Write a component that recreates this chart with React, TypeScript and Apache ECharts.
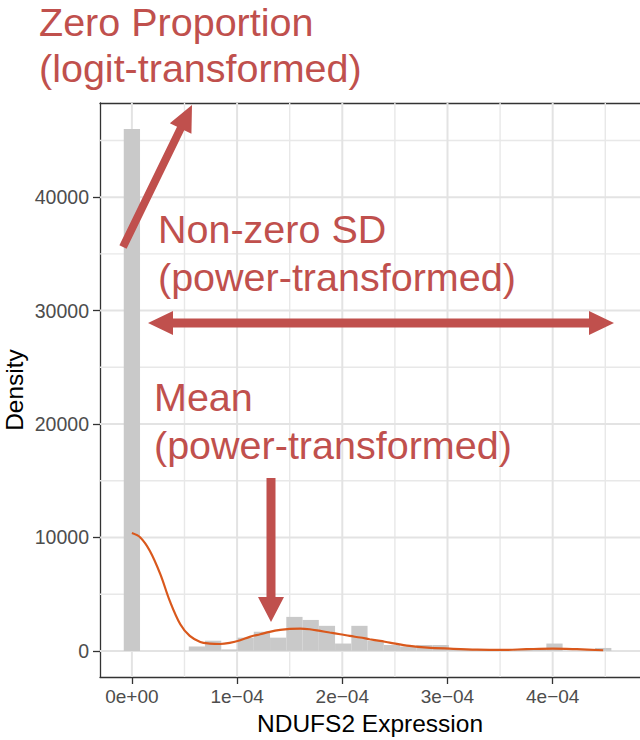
import React, { useEffect, useRef } from "react";
import * as echarts from "echarts";

// Histogram of NDUFS2 expression (density scale), 30 bins, first bin centred on 0
const binWidth = 1.545e-5;
const binDensity = [
  46000, 0, 0, 0, 390, 900, 130, 1170, 1690, 1170,
  3000, 2730, 2210, 650, 2210, 910, 520, 390, 520, 520,
  130, 130, 130, 0, 130, 260, 650, 0, 0, 260,
];

// Fitted density curve
const curveX = [
  0, 0.08e-4, 0.17e-4, 0.27e-4, 0.36e-4, 0.46e-4, 0.55e-4, 0.65e-4, 0.74e-4, 0.84e-4,
  0.93e-4, 1.03e-4, 1.12e-4, 1.22e-4, 1.31e-4, 1.41e-4, 1.5e-4, 1.6e-4, 1.69e-4, 1.79e-4,
  1.88e-4, 1.98e-4, 2.07e-4, 2.17e-4, 2.26e-4, 2.36e-4, 2.45e-4, 2.64e-4, 2.81e-4, 3.02e-4,
  3.28e-4, 3.53e-4, 3.75e-4, 4.0e-4, 4.23e-4, 4.48e-4,
];
const curveY = [
  10390, 10000, 8830, 6770, 4410, 2350, 1320, 790, 650, 610,
  710, 940, 1240, 1470, 1680, 1850, 1940, 1970, 1910, 1760,
  1620, 1470, 1320, 1180, 1030, 880, 730, 440, 290, 200,
  115, 90, 150, 200, 150, 60,
];

// Axis ticks and panel grid
const xTickValues = [0, 1e-4, 2e-4, 3e-4, 4e-4];
const xTickLabels = ["0e+00", "1e\u221204", "2e\u221204", "3e\u221204", "4e\u221204"];
const xMinorGrid = [0.5e-4, 1.5e-4, 2.5e-4, 3.5e-4, 4.5e-4];
const yTickValues = [0, 10000, 20000, 30000, 40000];
const yTickLabels = ["0", "10000", "20000", "30000", "40000"];
const yMinorGrid = [5000, 15000, 25000, 35000, 45000];

const X_MIN = -3.032e-5;
const X_MAX = 4.83e-4;
const Y_MIN = -2300;
const Y_MAX = 48300;

const RED = "#c0504d";
const FONT = '"Liberation Sans", Arial, sans-serif';
const FRAME = { color: "#333333", width: 1.3 };

type Pt = [number, number];

// Filled arrow outline from (x1,y1) to (x2,y2); optional head at both ends
function arrowPoints(
  x1: number, y1: number, x2: number, y2: number,
  shaftHalf: number, headLen: number, headHalf: number, both = false
): Pt[] {
  const dx = x2 - x1, dy = y2 - y1;
  const L = Math.hypot(dx, dy);
  const ux = dx / L, uy = dy / L, nx = -uy, ny = ux;
  const P = (s: number, t: number): Pt => [x1 + ux * s + nx * t, y1 + uy * s + ny * t];
  const pts: Pt[] = [];
  if (both) pts.push(P(0, 0), P(headLen, headHalf), P(headLen, shaftHalf));
  else pts.push(P(0, shaftHalf));
  pts.push(P(L - headLen, shaftHalf), P(L - headLen, headHalf), P(L, 0), P(L - headLen, -headHalf), P(L - headLen, -shaftHalf));
  if (both) pts.push(P(headLen, -shaftHalf), P(headLen, -headHalf));
  else pts.push(P(0, -shaftHalf));
  return pts;
}

function redText(text: string, x: number, y: number) {
  return {
    type: "text",
    x, y, z: 100,
    style: {
      text, fill: RED, font: `39.5px ${FONT}`,
      align: "left", verticalAlign: "middle",
      textAlign: "left", textVerticalAlign: "middle",
    },
  };
}

export default function App() {
  const ref = useRef<HTMLDivElement>(null);

  useEffect(() => {
    if (!ref.current) return;
    const chart = echarts.init(ref.current, undefined, { renderer: "svg" });

    // [value, kind]: 0 vertical major, 1 vertical minor, 2 horizontal major, 3 horizontal minor
    const gridData: number[][] = [
      ...xMinorGrid.map((v) => [v, 1]),
      ...yMinorGrid.map((v) => [v, 3]),
      ...xTickValues.map((v) => [v, 0]),
      ...yTickValues.map((v) => [v, 2]),
    ];

    const option: any = {
      animation: false,
      backgroundColor: "#ffffff",
      grid: { left: 100, top: 103, width: 540, height: 574, show: false },
      xAxis: [
        {
          type: "value",
          min: X_MIN,
          max: X_MAX,
          axisLine: { show: true, onZero: false, lineStyle: FRAME },
          splitLine: { show: false },
          axisTick: { show: true, length: 7, customValues: xTickValues, lineStyle: FRAME },
          axisLabel: {
            customValues: xTickValues,
            margin: 10, fontSize: 19, color: "#4d4d4d", fontFamily: FONT,
            formatter: (v: number) => {
              const i = xTickValues.findIndex((t) => Math.abs(t - v) < 1e-9);
              return i >= 0 ? xTickLabels[i] : "";
            },
          },
        },
        {
          // top edge of the panel frame
          type: "value",
          position: "top",
          min: X_MIN,
          max: X_MAX,
          axisLine: { show: true, onZero: false, lineStyle: FRAME },
          axisTick: { show: false },
          axisLabel: { show: false },
          splitLine: { show: false },
        },
      ],
      yAxis: {
        type: "value",
        min: Y_MIN,
        max: Y_MAX,
        axisLine: { show: true, onZero: false, lineStyle: FRAME },
        splitLine: { show: false },
        axisTick: { show: true, length: 7, customValues: yTickValues, lineStyle: FRAME },
        axisLabel: {
          customValues: yTickValues,
          margin: 11, fontSize: 19.5, color: "#4d4d4d", fontFamily: FONT,
          formatter: (v: number) => {
            const i = yTickValues.indexOf(v);
            return i >= 0 ? yTickLabels[i] : "";
          },
        },
      },
      series: [
        {
          // panel grid lines
          type: "custom",
          z: 1,
          silent: true,
          clip: false,
          data: gridData,
          renderItem: (_params: any, api: any) => {
            const v = api.value(0);
            const kind = api.value(1);
            const vertical = kind === 0 || kind === 1;
            const major = kind === 0 || kind === 2;
            const a = vertical ? api.coord([v, Y_MIN]) : api.coord([X_MIN, v]);
            const b = vertical ? api.coord([v, Y_MAX]) : api.coord([X_MAX, v]);
            return {
              type: "line",
              shape: { x1: a[0], y1: a[1], x2: b[0], y2: b[1] },
              style: { stroke: major ? "#e3e3e3" : "#e8e8e8", lineWidth: major ? 2 : 1.4 },
            };
          },
        },
        {
          type: "custom",
          z: 10,
          silent: true,
          data: binDensity.map((h, i) => [i * binWidth, h]),
          encode: { x: 0, y: 1 },
          renderItem: (_params: any, api: any) => {
            const c = api.value(0);
            const h = api.value(1);
            const p0 = api.coord([c - binWidth / 2, h]);
            const p1 = api.coord([c + binWidth / 2, 0]);
            return {
              type: "rect",
              shape: { x: p0[0], y: p0[1], width: p1[0] - p0[0], height: p1[1] - p0[1] },
              style: { fill: "#c9c9c9" },
            };
          },
        },
        {
          type: "line",
          z: 11,
          silent: true,
          data: curveX.map((x, i) => [x, curveY[i]]),
          smooth: 0.35,
          symbol: "none",
          lineStyle: { color: "#d9581c", width: 2.2 },
        },
      ],
      graphic: [
        {
          type: "text", x: 370, y: 723, z: 100,
          style: {
            text: "NDUFS2 Expression", fill: "#000000", font: `24.5px ${FONT}`,
            align: "center", verticalAlign: "middle", textAlign: "center", textVerticalAlign: "middle",
          },
        },
        {
          type: "text", x: 14, y: 390, rotation: Math.PI / 2, z: 100,
          style: {
            text: "Density", fill: "#000000", font: `24.5px ${FONT}`,
            align: "center", verticalAlign: "middle", textAlign: "center", textVerticalAlign: "middle",
          },
        },
        redText("Zero Proportion", 39, 22),
        redText("(logit-transformed)", 39, 68),
        redText("Non-zero SD", 158, 229),
        redText("(power-transformed)", 158, 277),
        redText("Mean", 154, 397),
        redText("(power-transformed)", 154, 445),
        {
          type: "polygon", z: 100,
          shape: { points: arrowPoints(123, 247, 192, 105, 4, 26, 12) },
          style: { fill: RED },
        },
        {
          type: "polygon", z: 100,
          shape: { points: arrowPoints(148, 323, 614, 323, 4.5, 25, 12, true) },
          style: { fill: RED },
        },
        {
          type: "polygon", z: 100,
          shape: { points: arrowPoints(271, 478, 271, 622, 4.5, 25, 13) },
          style: { fill: RED },
        },
      ],
    };

    chart.setOption(option);
    return () => chart.dispose();
  }, []);

  return (
    <div
      ref={ref}
      style={{ position: "absolute", left: 0, top: 0, width: 640, height: 740 }}
    />
  );
}
